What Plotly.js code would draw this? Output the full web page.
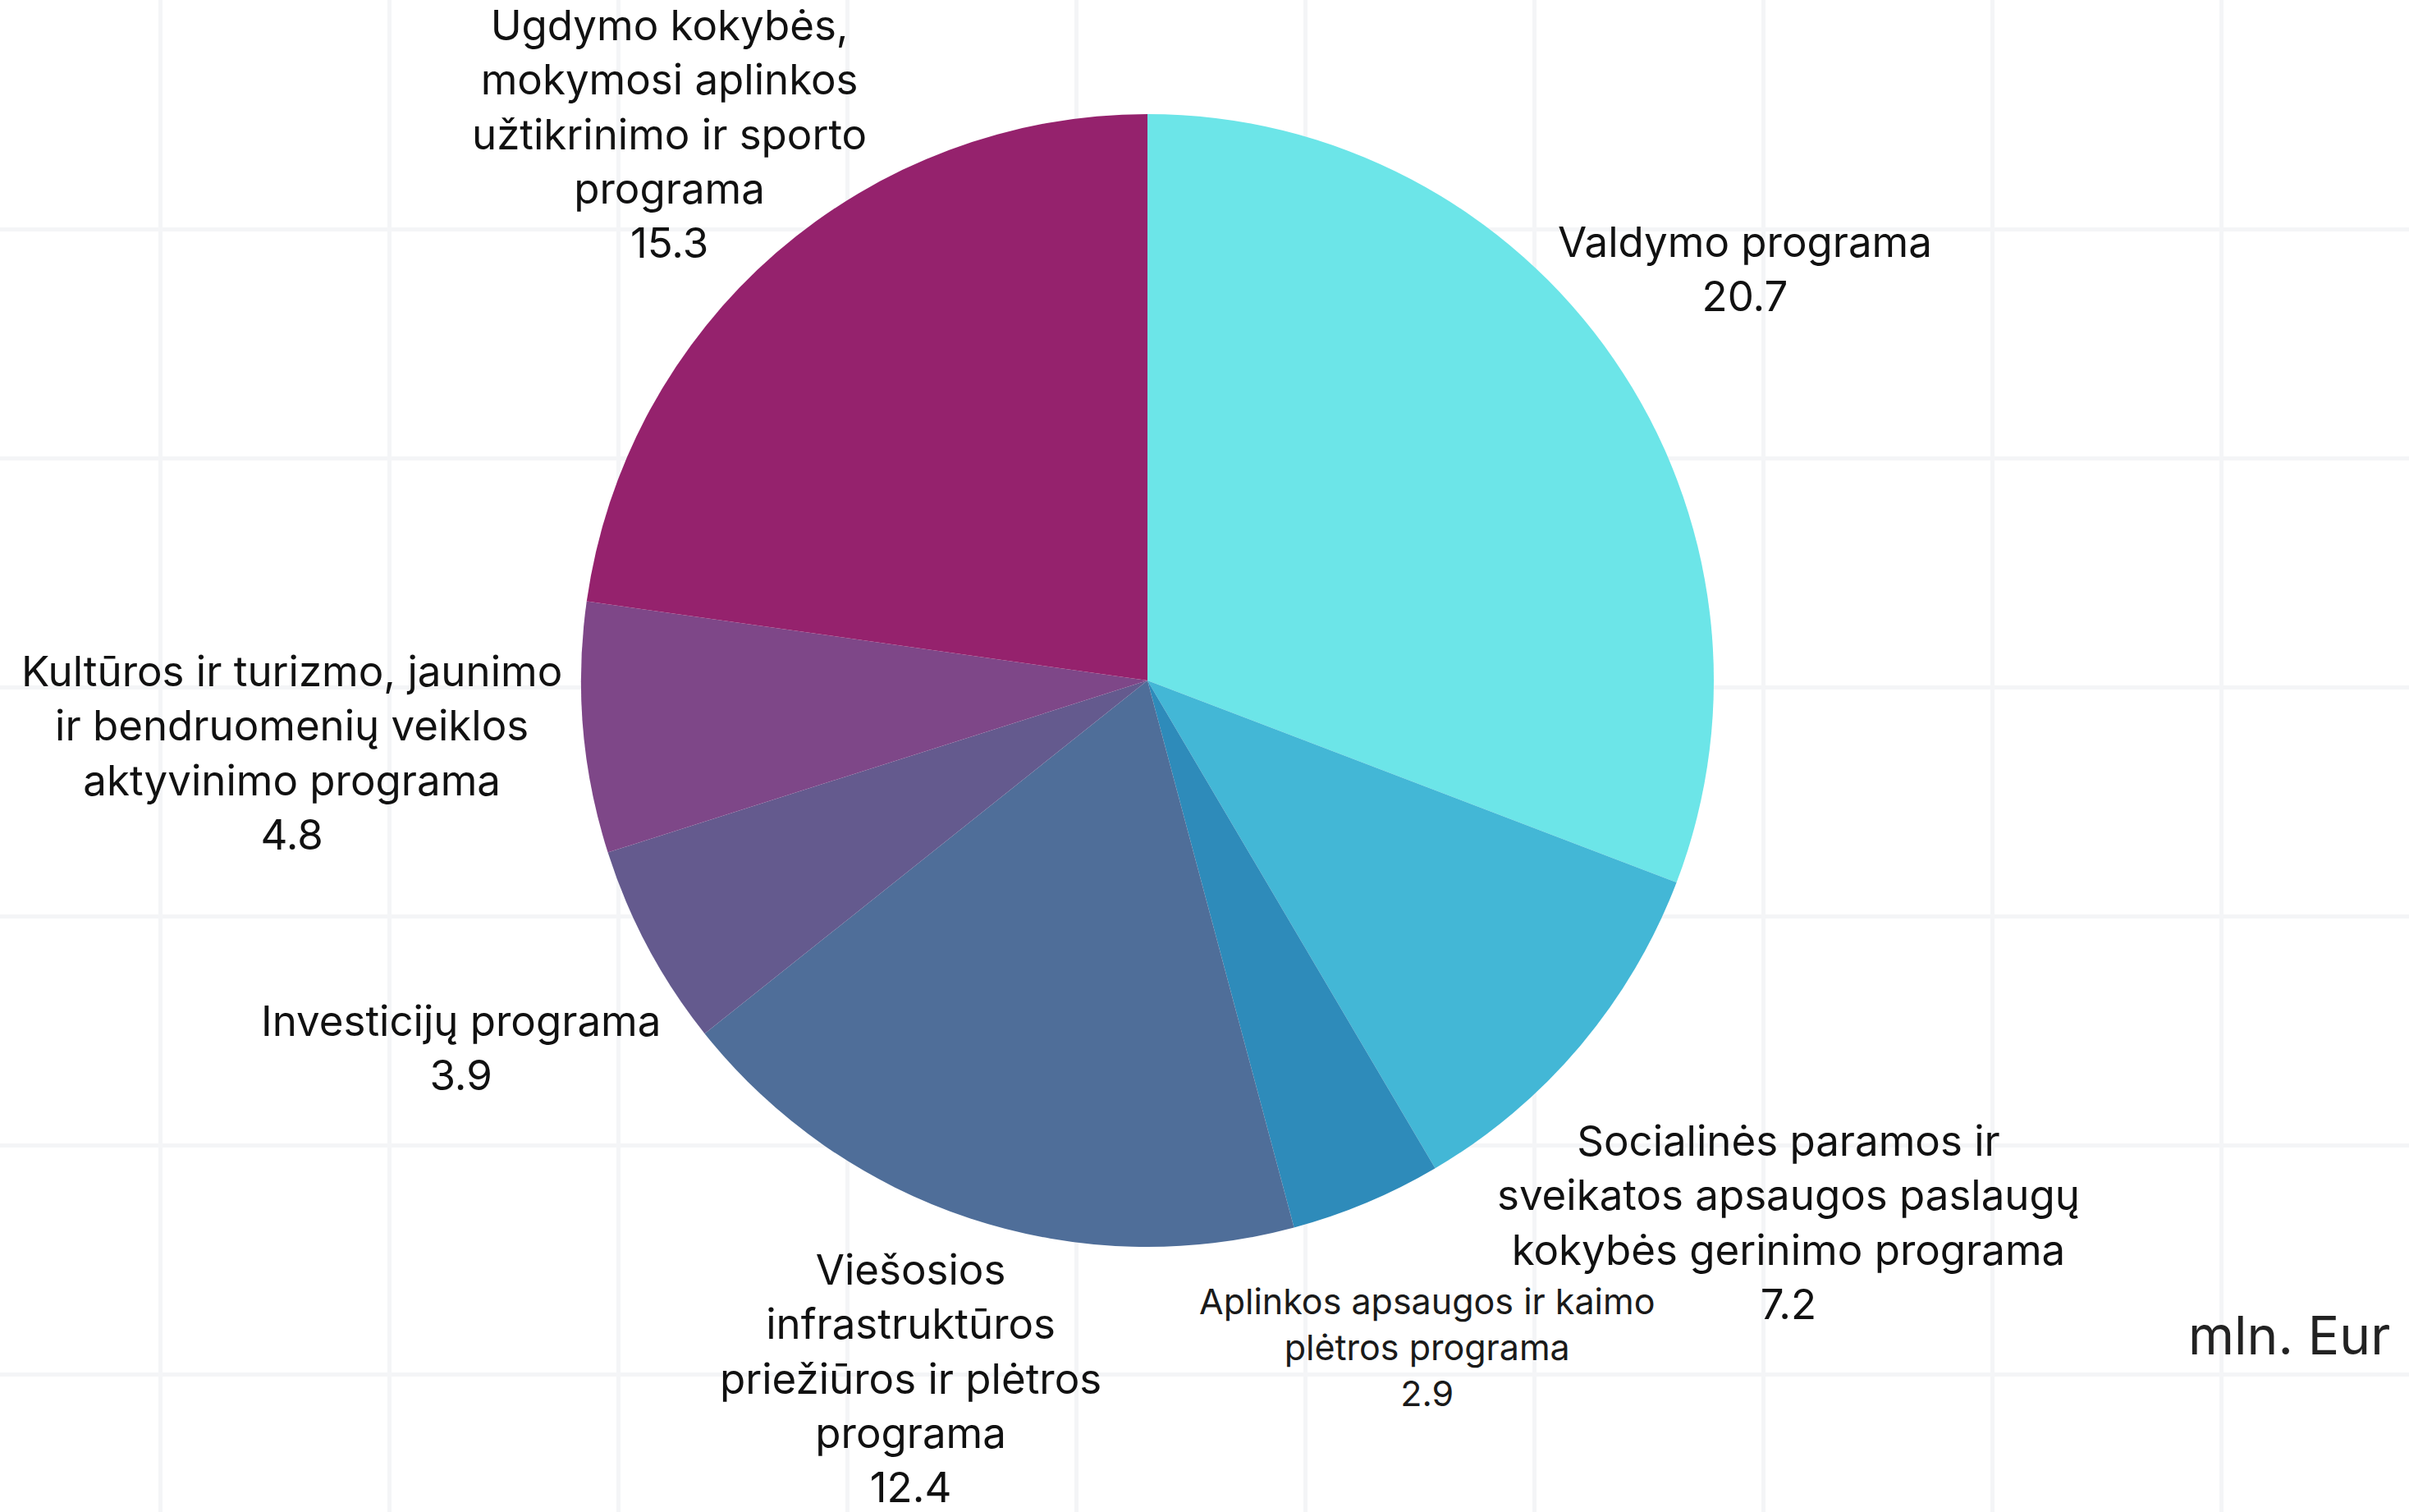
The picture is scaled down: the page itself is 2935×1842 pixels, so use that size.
<!DOCTYPE html>
<html>
<head>
<meta charset="utf-8">
<script src="https://cdn.plot.ly/plotly-3.0.1.min.js"></script>
<style>html,body{margin:0;padding:0;background:#fff;}#chart{width:2935px;height:1842px;}</style>
</head>
<body>
<div id="chart"></div>
<script>
const categories = [
  "Valdymo programa",
  "Socialinės paramos ir<br>sveikatos apsaugos paslaugų<br>kokybės gerinimo programa",
  "Aplinkos apsaugos ir kaimo<br>plėtros programa",
  "Viešosios<br>infrastruktūros<br>priežiūros ir plėtros<br>programa",
  "Investicijų programa",
  "Kultūros ir turizmo, jaunimo<br>ir bendruomenių veiklos<br>aktyvinimo programa",
  "Ugdymo kokybės,<br>mokymosi aplinkos<br>užtikrinimo ir sporto<br>programa"
];
const values = [20.7, 7.2, 2.9, 12.4, 3.9, 4.8, 15.3];
const colors = ["#6ce5e8", "#43b7d6", "#2e8bba", "#4f6e99", "#645a8e", "#7e4788", "#95226d"];
const unitLabel = "mln. Eur";

const W = 2935, H = 1842;
// pie geometry (pixels)
const CX = 1398, CY = 829, R = 690;
const FONT = "Inter, 'Open Sans', sans-serif";
const labelSizes = values.map((v, i) => i === 2 ? 43 : 51);
const GAP = 24;      // radial gap between pie edge and label box
const TILT = 37;     // labels in the lower half sit a little further out

const canvas = document.createElement("canvas");
const ctx = canvas.getContext("2d");
function textWidth(s, size) {
  ctx.font = size + "px Inter, 'Open Sans', sans-serif";
  return ctx.measureText(s).width;
}

const total = values.reduce((a, b) => a + b, 0);
let cum = 0;
const annotations = categories.map((cat, i) => {
  const mid = (cum + values[i] / 2) / total * 2 * Math.PI;
  cum += values[i];
  const lines = cat.split("<br>").concat([String(values[i])]);
  const size = labelSizes[i];
  const w = Math.max(...lines.map(l => textWidth(l, size)));
  const h = lines.length * size * 1.3;
  const s = Math.sin(mid), c = Math.cos(mid);
  const d = R + GAP - TILT * c + Math.sqrt(Math.pow(w / 2 * s, 2) + Math.pow(h / 2 * c, 2));
  const px = CX + d * s;
  let py = CY - d * c;
  // keep the label block inside the canvas
  py = Math.min(py, H - h / 2 + 3);
  py = Math.max(py, h / 2 - 3);
  return {
    text: cat + "<br>" + values[i],
    xref: "paper", yref: "paper",
    x: px / W, y: 1 - py / H,
    xanchor: "center", yanchor: "middle", align: "center",
    showarrow: false,
    font: { family: FONT, size: size, color: i === 2 ? "#1a1a1a" : "#111111" }
  };
});
annotations.push({
  text: unitLabel, xref: "paper", yref: "paper", x: 0.993, y: 0.117,
  xanchor: "right", yanchor: "middle", showarrow: false,
  font: { family: FONT, size: 64, color: "#222222" }
});

const data = [
  {
    type: "scatter", x: [null], y: [null], mode: "markers",
    hoverinfo: "skip", showlegend: false
  },
  {
    type: "pie",
    labels: categories,
    values: values,
    sort: false,
    direction: "clockwise",
    rotation: 0,
    textinfo: "none",
    marker: { colors: colors, line: { width: 0 } },
    domain: { x: [(CX - R) / W, (CX + R) / W], y: [(H - CY - R) / H, (H - CY + R) / H] },
    showlegend: false,
    hoverinfo: "label+value"
  }
];

const layout = {
  width: W, height: H,
  margin: { l: 0, r: 0, t: 0, b: 0 },
  paper_bgcolor: "#ffffff",
  plot_bgcolor: "#ffffff",
  xaxis: {
    range: [0, W], tick0: 195, dtick: 279, showticklabels: false, ticks: "",
    zeroline: false, showline: false, gridcolor: "#f4f5f7", gridwidth: 5, fixedrange: true
  },
  yaxis: {
    range: [H, 0], tick0: 0, dtick: 279, showticklabels: false, ticks: "",
    zeroline: false, showline: false, gridcolor: "#f4f5f7", gridwidth: 5, fixedrange: true
  },
  annotations: annotations
};

Plotly.newPlot("chart", data, layout, { displayModeBar: false, staticPlot: true });
</script>
</body>
</html>
